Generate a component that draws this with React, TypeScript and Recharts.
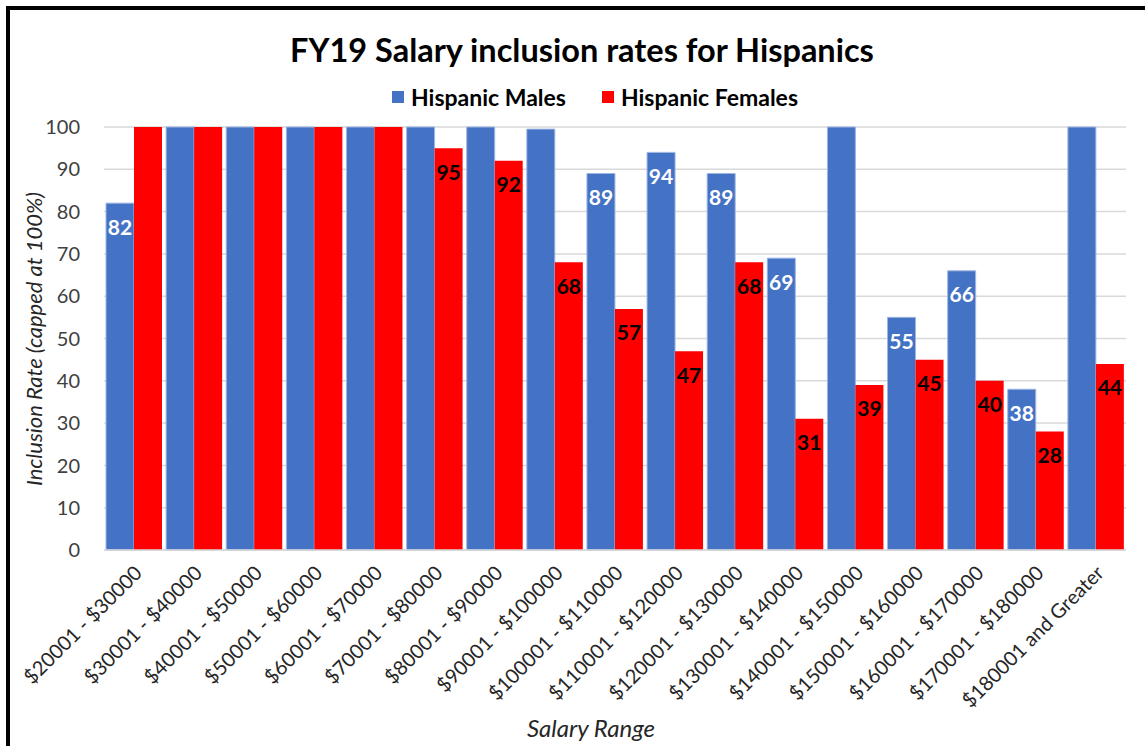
import { BarChart, Bar, XAxis, YAxis, CartesianGrid, LabelList } from "recharts";

const categories = [
  "$20001 - $30000",
  "$30001 - $40000",
  "$40001 - $50000",
  "$50001 - $60000",
  "$60001 - $70000",
  "$70001 - $80000",
  "$80001 - $90000",
  "$90001 - $100000",
  "$100001 - $110000",
  "$110001 - $120000",
  "$120001 - $130000",
  "$130001 - $140000",
  "$140001 - $150000",
  "$150001 - $160000",
  "$160001 - $170000",
  "$170001 - $180000",
  "$180001 and Greater",
];
const males = [82, 100, 100, 100, 100, 100, 100, 99.5, 89, 94, 89, 69, 100, 55, 66, 38, 100];
const females = [100, 100, 100, 100, 100, 95, 92, 68, 57, 47, 68, 31, 39, 45, 40, 28, 44];
const yTicks = [0, 10, 20, 30, 40, 50, 60, 70, 80, 90, 100];

const FONT = "Lato, 'Open Sans', sans-serif";
const BLUE = "#4472C4";
const RED = "#FF0000";

const data = categories.map((c, i) => ({ range: c, males: males[i], females: females[i] }));

// labels sit inside the top of the bar; capped bars carry none
function makeLabel(color: string) {
  return (props: any) => {
    const { x = 0, y = 0, width = 0, value } = props;
    if (value == null || value >= 99) return null;
    return (
      <text
        x={x + width / 2}
        y={y + 26}
        textAnchor="middle"
        dominantBaseline="middle"
        fill={color}
        fontFamily={FONT}
        fontWeight={700}
        fontSize={21}
      >
        {Math.round(value)}
      </text>
    );
  };
}

function XTick(props: any) {
  const { x, y, payload } = props;
  return (
    <g transform={`translate(${x + 5},${y + 12})`}>
      <text
        textAnchor="end"
        transform="rotate(-45)"
        fill="#262626"
        fontFamily={FONT}
        fontSize={20}
        dy={6}
      >
        {payload.value}
      </text>
    </g>
  );
}

export default function App() {
  return (
    <div
      style={{
        position: "fixed",
        left: 0,
        top: 0,
        width: 1145,
        height: 746,
        background: "#fff",
        overflow: "hidden",
      }}
    >
      {/* frame */}
      <div
        style={{
          position: "absolute",
          left: 6,
          top: 6,
          width: 1200,
          height: 736,
          borderTop: "4px solid #000",
          borderLeft: "4px solid #000",
          borderBottom: "2px solid #d9d9d9",
        }}
      />
      <div
        style={{
          position: "absolute",
          left: 290,
          top: 30,
          whiteSpace: "nowrap",
          fontFamily: FONT,
          fontWeight: 700,
          fontSize: 32.5,
          color: "#000",
        }}
      >
        FY19 Salary inclusion rates for Hispanics
      </div>
      {/* legend */}
      <div
        style={{
          position: "absolute",
          left: 392,
          top: 83,
          display: "flex",
          alignItems: "center",
          fontFamily: FONT,
          fontWeight: 700,
          fontSize: 23,
          color: "#000",
        }}
      >
        <span style={{ width: 12, height: 12, background: BLUE, marginRight: 7 }} />
        <span style={{ marginRight: 36 }}>Hispanic Males</span>
        <span style={{ width: 12, height: 12, background: RED, marginRight: 7 }} />
        <span>Hispanic Females</span>
      </div>
      <div
        style={{
          position: "absolute",
          left: 33,
          top: 339,
          transform: "translate(-50%, -50%) rotate(-90deg)",
          whiteSpace: "nowrap",
          fontFamily: FONT,
          fontStyle: "italic",
          fontSize: 22,
          color: "#262626",
        }}
      >
        Inclusion Rate (capped at 100%)
      </div>
      <div
        style={{
          position: "absolute",
          left: 591,
          top: 727,
          transform: "translate(-50%, -50%)",
          whiteSpace: "nowrap",
          fontFamily: FONT,
          fontStyle: "italic",
          fontSize: 24,
          color: "#262626",
        }}
      >
        Salary Range
      </div>
      <div style={{ position: "absolute", left: 0, top: 0 }}>
        <BarChart
          width={1145}
          height={746}
          data={data}
          margin={{ top: 127, right: 19, left: 24, bottom: 26 }}
          barCategoryGap={2}
          barGap={0}
        >
          <CartesianGrid vertical={false} stroke="#d9d9d9" strokeWidth={1.5} />
          <XAxis
            dataKey="range"
            interval={0}
            height={170}
            tickLine={false}
            axisLine={{ stroke: "#d9d9d9", strokeWidth: 1.5 }}
            tick={<XTick />}
          />
          <YAxis
            width={80}
            domain={[0, 100]}
            ticks={yTicks}
            axisLine={false}
            tickLine={false}
            tickMargin={18}
            tick={{ fill: "#404040", fontFamily: FONT, fontSize: 20 }}
          />
          <Bar dataKey="males" fill={BLUE} stroke="#9fb6e2" strokeWidth={1} isAnimationActive={false}>
            <LabelList dataKey="males" content={makeLabel("#ffffff")} />
          </Bar>
          <Bar dataKey="females" fill={RED} isAnimationActive={false}>
            <LabelList dataKey="females" content={makeLabel("#000000")} />
          </Bar>
        </BarChart>
      </div>
    </div>
  );
}
